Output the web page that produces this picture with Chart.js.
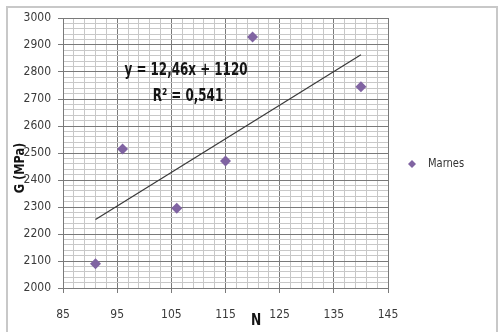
<!DOCTYPE html>
<html>
<head>
<meta charset="utf-8">
<script src="https://cdn.jsdelivr.net/npm/chart.js@4/dist/chart.umd.min.js"></script>
<style>
  html, body { margin: 0; padding: 0; background: #fff; }
  #wrap { position: relative; width: 499px; height: 332px; }
</style>
</head>
<body>
<div id="wrap"><canvas id="c" width="499" height="332"></canvas></div>
<script>
// ---- data ----
const seriesName = 'Marnes';
const nValues = [91, 96, 106, 115, 120, 140];
const gValues = [2090, 2515, 2295, 2470, 2930, 2745];
const trendX = [91, 140];
const trendY = [2254, 2864];
const equationLines = ['y = 12,46x + 1120', 'R² = 0,541'];
const xTitle = 'N';
const yTitle = 'G (MPa)';
const xMin = 85, xMax = 145, xMinorStep = 2, xMajorStep = 10;
const yMin = 2000, yMax = 3000, yMinorStep = 20, yMajorStep = 100;

const FONT = "'Liberation Sans Narrow', 'DejaVu Sans Condensed', 'Liberation Sans', sans-serif";
const PURPLE = '#8064a2';
const MAJOR = '#7a7a7a';
const MINOR = '#c8c8c8';

const points = nValues.map((n, i) => ({x: n, y: gValues[i]}));
const trend = trendX.map((x, i) => ({x: x, y: trendY[i]}));

const isMajorX = v => Math.abs(((v - xMin) % xMajorStep)) < 1e-6;
const isMajorY = v => Math.abs(((v - yMin) % yMajorStep)) < 1e-6;

function narrowText(ctx, text, x, y, sx) {
  ctx.save();
  ctx.translate(x, y);
  ctx.scale(sx, 1);
  ctx.fillText(text, 0, 0);
  ctx.restore();
}

const decor = {
  id: 'decor',
  beforeDraw(chart) {
    const ctx = chart.ctx;
    ctx.save();
    ctx.fillStyle = '#fff';
    ctx.fillRect(0, 0, chart.width, chart.height);
    ctx.strokeStyle = '#c8c8c8';
    ctx.lineWidth = 2;
    ctx.strokeRect(7, 7, 490, 340);
    ctx.restore();
  },
  afterDraw(chart) {
    const ctx = chart.ctx;
    ctx.save();
    // equation
    ctx.fillStyle = '#141414';
    ctx.font = 'bold 17px ' + FONT;
    ctx.textAlign = 'center';
    ctx.textBaseline = 'middle';
    narrowText(ctx, equationLines[0], 186, 71, 0.78);
    narrowText(ctx, equationLines[1], 188, 97, 0.78);
    // axis titles
    ctx.font = 'bold 16px ' + FONT;
    narrowText(ctx, xTitle, 256, 321, 0.85);
    ctx.save();
    ctx.translate(20, 168);
    ctx.rotate(-Math.PI / 2);
    ctx.font = 'bold 14px ' + FONT;
    narrowText(ctx, yTitle, 0, 0, 0.9);
    ctx.restore();
    // legend
    const lx = 412, ly = 164, r = 4;
    ctx.fillStyle = PURPLE;
    ctx.beginPath();
    ctx.moveTo(lx, ly - r); ctx.lineTo(lx + r, ly); ctx.lineTo(lx, ly + r); ctx.lineTo(lx - r, ly);
    ctx.closePath(); ctx.fill();
    ctx.fillStyle = '#333';
    ctx.font = '12px ' + FONT;
    ctx.textAlign = 'left';
    narrowText(ctx, seriesName, 428, 164, 0.92);
    ctx.restore();
  }
};

new Chart(document.getElementById('c'), {
  type: 'scatter',
  data: {
    datasets: [
      {
        label: 'trend',
        type: 'line',
        data: trend,
        borderColor: '#3a3a3a',
        borderWidth: 1.2,
        pointRadius: 0,
        fill: false,
        order: 2
      },
      {
        label: seriesName,
        data: points,
        pointStyle: 'rectRot',
        pointRadius: 5.5,
        pointHoverRadius: 5.5,
        backgroundColor: PURPLE,
        borderColor: PURPLE,
        borderWidth: 0,
        order: 1
      }
    ]
  },
  options: {
    responsive: false,
    animation: false,
    events: [],
    layout: { padding: { left: 0, top: 18, right: 111, bottom: 0 } },
    plugins: { legend: { display: false }, tooltip: { enabled: false } },
    scales: {
      x: {
        type: 'linear',
        min: xMin, max: xMax,
        afterBuildTicks(scale) {
          const t = [];
          for (let v = xMin; v <= xMax + 1e-9; v += xMinorStep) t.push({value: v});
          scale.ticks = t;
        },
        afterFit(scale) { scale.height = 44; },
        ticks: {
          autoSkip: false, maxRotation: 0, minRotation: 0,
          padding: 15,
          color: '#3a3a3a',
          font: { family: FONT, size: 12 },
          callback: v => isMajorX(v) ? String(v) : ''
        },
        grid: {
          color: ctx => isMajorX(ctx.tick.value) ? MAJOR : MINOR,
          tickColor: ctx => isMajorX(ctx.tick.value) ? MAJOR : 'rgba(0,0,0,0)',
          tickLength: 5,
          lineWidth: 1
        },
        border: { color: MAJOR }
      },
      y: {
        type: 'linear',
        min: yMin, max: yMax,
        afterFit(scale) { scale.width = 63; },
        ticks: {
          stepSize: yMinorStep,
          autoSkip: false,
          padding: 7,
          color: '#3a3a3a',
          font: { family: FONT, size: 12 },
          callback: v => isMajorY(v) ? String(v) : ''
        },
        grid: {
          color: ctx => isMajorY(ctx.tick.value) ? MAJOR : MINOR,
          tickColor: ctx => isMajorY(ctx.tick.value) ? MAJOR : 'rgba(0,0,0,0)',
          tickLength: 5,
          lineWidth: 1
        },
        border: { color: MAJOR }
      }
    }
  },
  plugins: [decor]
});
</script>
</body>
</html>
